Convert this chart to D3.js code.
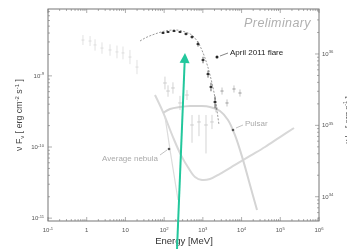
<!DOCTYPE html>
<html lang="en">
<head>
<meta charset="UTF-8">
<title>Crab Nebula April 2011 flare SED</title>
<style>
  body { margin: 0; background: #fff; }
  svg { display: block; font-family: "Liberation Sans", Arial, sans-serif; filter: blur(0.3px); }
  .tick-label { font-size: 6px; fill: #555; }
  .note { font-size: 8px; }
</style>
</head>
<body>
<svg id="chart" width="347" height="249"></svg>
<script src="https://d3js.org/d3.v7.min.js"></script>
<script>
// energies in MeV, fluxes nuFnu in erg cm^-2 s^-1
var flareE    = [93.5, 126, 180, 257, 367, 525, 750, 1010, 1360, 1622, 2060];
var flareF    = [4.01e-9, 4.14e-9, 4.27e-9, 4.14e-9, 3.88e-9, 3.52e-9, 2.80e-9, 1.67e-9, 1.06e-9, 6.98e-10, 4.29e-10];
var flareErr  = [0.015, 0.015, 0.015, 0.015, 0.02, 0.025, 0.035, 0.045, 0.05, 0.06, 0.08]; // dex

var fitE = [23.8, 32.1, 58, 105, 191, 346, 556, 843, 1135, 1530, 2060, 2614];
var fitF = [3.09e-9, 3.40e-9, 3.88e-9, 4.27e-9, 4.42e-9, 4.14e-9, 3.63e-9, 2.63e-9, 1.78e-9, 1.03e-9, 4.89e-10, 2.04e-10];

// low energy nebula data
var lowE   = [0.80, 1.22, 1.64, 2.48, 4.0, 6.05, 8.65, 13.1, 19.9];
var lowF   = [3.19e-9, 3.09e-9, 2.72e-9, 2.46e-9, 2.31e-9, 2.17e-9, 2.10e-9, 1.84e-9, 1.33e-9];
var lowErr = [0.07, 0.07, 0.08, 0.08, 0.08, 0.09, 0.09, 0.1, 0.1];

// average LAT points
var avgE     = [105, 126, 169, 257, 389, 525, 794, 1205, 1722];
var avgF     = [7.94e-10, 6.12e-10, 6.76e-10, 4.16e-10, 5.38e-10, 2.04e-10, 2.25e-10, 2.04e-10, 2.25e-10];
var avgErrLo = [0.09, 0.08, 0.08, 0.1, 0.07, 0.25, 0.2, 0.4, 0.1];
var avgErrHi = [0.09, 0.08, 0.08, 0.1, 0.07, 0.14, 0.1, 0.14, 0.1];

// other flare-period points above a few GeV
var tailE   = [2188, 3126, 4207, 6368, 9100];
var tailF   = [3.53e-10, 6.12e-10, 4.16e-10, 6.54e-10, 5.74e-10];
var tailErr = [0.06, 0.05, 0.05, 0.05, 0.05];

// model curves
var nebulaE = [58, 93.5, 169, 272, 413, 627, 951, 1530, 2773, 6761, 16520, 40300, 98400, 226000];
var nebulaF = [5.38e-10, 3.10e-10, 1.38e-10, 7.7e-11, 5.2e-11, 3.8e-11, 3.44e-11, 3.55e-11, 4.2e-11, 5.6e-11, 7.5e-11, 1.0e-10, 1.38e-10, 1.85e-10];
var synchE  = [105, 119, 142, 180, 228];
var synchF  = [2.64e-10, 1.73e-10, 9.1e-11, 4.05e-11, 1.8e-11];
var pulsarE = [93.5, 142, 257, 466, 843, 1530, 2773, 4457, 6761, 10890, 16520, 25060];
var pulsarF = [3.01e-10, 3.42e-10, 3.65e-10, 3.77e-10, 3.77e-10, 3.65e-10, 3.21e-10, 2.40e-10, 1.47e-10, 6.6e-11, 2.92e-11, 1.30e-11];

var xTickExp  = [-1, 0, 1, 2, 3, 4, 5, 6];
var yTickExp  = [-11, -10, -9];
var yRTickExp = [34, 35, 36];

var svg = d3.select("#chart");
var pLeft = 48, pRight = 319, pTop = 9, pBottom = 221;

var x = d3.scaleLog().domain([0.1, 1e6]).range([pLeft, pRight]);
var y = d3.scaleLog().domain([Math.pow(10, -11.04), Math.pow(10, -8.06)]).range([pBottom, pTop]);
var yR = d3.scaleLog().domain([Math.pow(10, 33.66), Math.pow(10, 36.63)]).range([pBottom, pTop]);

function zip(a, b) { return a.map(function (d, i) { return [d, b[i]]; }); }

// frame
svg.append("rect")
   .attr("x", pLeft).attr("y", pTop)
   .attr("width", pRight - pLeft).attr("height", pBottom - pTop)
   .attr("fill", "none").attr("stroke", "#777").attr("stroke-width", 1);

function isMajor(v) { return Math.abs(Math.log10(v) - Math.round(Math.log10(v))) < 1e-6; }

function powLabel(sel, e) {
    if (e === 0) { sel.text("1"); return; }
    if (e === 1) { sel.text("10"); return; }
    sel.text("10");
    sel.append("tspan").attr("dy", -2.5).attr("font-size", "4.2px").text(e);
}

// x ticks bottom + top
var ticks = svg.append("g").attr("stroke", "#777").attr("stroke-width", 0.6);
x.ticks().forEach(function (v) {
    var len = isMajor(v) ? 4 : 2, px = x(v);
    ticks.append("line").attr("x1", px).attr("x2", px).attr("y1", pBottom).attr("y2", pBottom - len);
    ticks.append("line").attr("x1", px).attr("x2", px).attr("y1", pTop).attr("y2", pTop + len);
});
y.ticks().forEach(function (v) {
    var len = isMajor(v) ? 4 : 2, py = y(v);
    ticks.append("line").attr("x1", pLeft).attr("x2", pLeft + len).attr("y1", py).attr("y2", py);
});
yR.ticks().forEach(function (v) {
    var len = isMajor(v) ? 4 : 2, py = yR(v);
    ticks.append("line").attr("x1", pRight).attr("x2", pRight - len).attr("y1", py).attr("y2", py);
});

xTickExp.forEach(function (e) {
    var t = svg.append("text").attr("class", "tick-label")
        .attr("x", x(Math.pow(10, e))).attr("y", 232).attr("text-anchor", "middle");
    powLabel(t, e);
});
yTickExp.forEach(function (e) {
    var t = svg.append("text").attr("class", "tick-label")
        .attr("x", pLeft - 4).attr("y", y(Math.pow(10, e)) + 2).attr("text-anchor", "end");
    powLabel(t, e);
});
yRTickExp.forEach(function (e) {
    var t = svg.append("text").attr("class", "tick-label")
        .attr("x", pRight + 3).attr("y", yR(Math.pow(10, e)) + 2).attr("text-anchor", "start");
    powLabel(t, e);
});

// axis titles
svg.append("text").attr("x", 184).attr("y", 244).attr("text-anchor", "middle")
   .attr("font-size", "9.5px").attr("fill", "#333").text("Energy [MeV]");

var yt = svg.append("text").attr("transform", "translate(22,115) rotate(-90)")
   .attr("text-anchor", "middle").attr("font-size", "8.8px").attr("fill", "#444");
yt.append("tspan").text("ν F");
yt.append("tspan").attr("dy", 1.5).attr("font-size", "6px").text("ν");
yt.append("tspan").attr("dy", -1.5).text(" [ erg cm");
yt.append("tspan").attr("dy", -3).attr("font-size", "6px").text("-2");
yt.append("tspan").attr("dy", 3).text(" s");
yt.append("tspan").attr("dy", -3).attr("font-size", "6px").text("-1");
yt.append("tspan").attr("dy", 3).text(" ]");

var yrt = svg.append("text").attr("transform", "translate(350,120) rotate(-90)")
   .attr("text-anchor", "middle").attr("font-size", "8px").attr("fill", "#444");
yrt.append("tspan").text("ν L");
yrt.append("tspan").attr("dy", 1.5).attr("font-size", "5.5px").text("ν");
yrt.append("tspan").attr("dy", -1.5).text(" [ erg s");
yrt.append("tspan").attr("dy", -3).attr("font-size", "5.5px").text("-1");
yrt.append("tspan").attr("dy", 3).text(" ]");

// clip to frame
svg.append("clipPath").attr("id", "plot-clip").append("rect")
   .attr("x", pLeft).attr("y", pTop).attr("width", pRight - pLeft).attr("height", pBottom - pTop);
var plot = svg.append("g").attr("clip-path", "url(#plot-clip)");

var line = d3.line().x(function (d) { return x(d[0]); }).y(function (d) { return y(d[1]); }).curve(d3.curveMonotoneX);
var lineXY = d3.line().x(function (d) { return x(d[0]); }).y(function (d) { return y(d[1]); }).curve(d3.curveCatmullRom);

plot.append("path").datum(zip(nebulaE, nebulaF)).attr("d", lineXY)
    .attr("fill", "none").attr("stroke", "#d8d8d8").attr("stroke-width", 2);
plot.append("path").datum(zip(synchE, synchF)).attr("d", lineXY)
    .attr("fill", "none").attr("stroke", "#dcdcdc").attr("stroke-width", 1.2);
plot.append("path").datum(zip(pulsarE, pulsarF)).attr("d", lineXY)
    .attr("fill", "none").attr("stroke", "#d4d4d4").attr("stroke-width", 2);

// error-bar points
function points(E, F, lo, hi, color, halfDex, r) {
    var g = plot.append("g").attr("stroke", color).attr("fill", color).attr("stroke-width", 0.7);
    E.forEach(function (e, i) {
        var f = F[i];
        g.append("line").attr("x1", x(e)).attr("x2", x(e))
            .attr("y1", y(f * Math.pow(10, hi[i]))).attr("y2", y(f / Math.pow(10, lo[i])));
        g.append("line").attr("x1", x(e / Math.pow(10, halfDex))).attr("x2", x(e * Math.pow(10, halfDex)))
            .attr("y1", y(f)).attr("y2", y(f));
        if (r > 0) g.append("circle").attr("cx", x(e)).attr("cy", y(f)).attr("r", r).attr("stroke", "none");
    });
}
points(lowE, lowF, lowErr, lowErr, "#d6d6d6", 0.04, 0);
points(avgE, avgF, avgErrLo, avgErrHi, "#c2c2c2", 0.05, 0);
points(tailE, tailF, tailErr, tailErr, "#aaa", 0.05, 0.8);

plot.append("path").datum(zip(fitE, fitF)).attr("d", line)
    .attr("fill", "none").attr("stroke", "#555").attr("stroke-width", 0.6).attr("stroke-dasharray", "2,1.5");
points(flareE, flareF, flareErr, flareErr, "#222", 0.05, 1.1);

// annotations
svg.append("circle").attr("cx", 217).attr("cy", 57).attr("r", 1.5).attr("fill", "#222");
svg.append("line").attr("x1", 220).attr("y1", 56).attr("x2", 228).attr("y2", 53).attr("stroke", "#333").attr("stroke-width", 0.6);
svg.append("text").attr("class", "note").attr("x", 230).attr("y", 55).attr("fill", "#222").text("April 2011 flare");

svg.append("circle").attr("cx", 233).attr("cy", 130).attr("r", 1.3).attr("fill", "#555");
svg.append("line").attr("x1", 236).attr("y1", 128).attr("x2", 243).attr("y2", 125).attr("stroke", "#999").attr("stroke-width", 0.6);
svg.append("text").attr("class", "note").attr("x", 245).attr("y", 126).attr("font-size", "8.5px").attr("fill", "#aaa").text("Pulsar");

svg.append("circle").attr("cx", 169).attr("cy", 149).attr("r", 1.3).attr("fill", "#555");
svg.append("line").attr("x1", 160).attr("y1", 155).attr("x2", 167).attr("y2", 150).attr("stroke", "#999").attr("stroke-width", 0.6);
svg.append("text").attr("class", "note").attr("x", 158).attr("y", 161).attr("text-anchor", "end")
   .attr("font-size", "8.8px").attr("fill", "#aaa").text("Average nebula");

svg.append("text").attr("x", 311).attr("y", 27).attr("text-anchor", "end")
   .attr("font-size", "12.5px").attr("letter-spacing", "0.4px").attr("font-style", "italic")
   .attr("fill", "#b0b0b0").text("Preliminary");

// green arrow
var arrowFrom = [215, 3.68e-12], arrowTo = [346, 2.1e-9];
var ax0 = x(arrowFrom[0]), ay0 = y(arrowFrom[1]), ax1 = x(arrowTo[0]), ay1 = y(arrowTo[1]);
var ang = Math.atan2(ay1 - ay0, ax1 - ax0);
var headLen = 10, headW = 5;
var bx = ax1 - headLen * Math.cos(ang), by = ay1 - headLen * Math.sin(ang);
svg.append("line").attr("x1", ax0).attr("y1", ay0).attr("x2", bx).attr("y2", by)
   .attr("stroke", "#22c79c").attr("stroke-width", 2);
svg.append("path")
   .attr("d", "M" + ax1 + "," + ay1 +
        "L" + (bx + headW * Math.sin(ang)) + "," + (by - headW * Math.cos(ang)) +
        "L" + (bx - headW * Math.sin(ang)) + "," + (by + headW * Math.cos(ang)) + "Z")
   .attr("fill", "#22c79c");
</script>
</body>
</html>
